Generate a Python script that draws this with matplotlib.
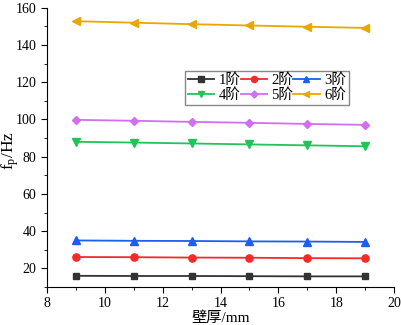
import matplotlib
matplotlib.use("Agg")
import matplotlib.pyplot as plt
from matplotlib.ticker import MultipleLocator

plt.rcParams['font.family'] = ['Liberation Serif', 'Noto Sans CJK SC']

thickness = [9, 11, 13, 15, 17, 19]
mode1 = [16.0, 15.9, 15.9, 15.8, 15.7, 15.7]
mode2 = [26.1, 26.0, 25.8, 25.7, 25.5, 25.4]
mode3 = [35.0, 34.8, 34.7, 34.5, 34.4, 34.2]
mode4 = [88.0, 87.6, 87.1, 86.6, 86.1, 85.6]
mode5 = [99.8, 99.3, 98.7, 98.2, 97.6, 97.1]
mode6 = [152.8, 152.0, 151.2, 150.5, 149.8, 149.2]
labels = ['1阶', '2阶', '3阶', '4阶', '5阶', '6阶']

series = [mode1, mode2, mode3, mode4, mode5, mode6]
colors = ['#333333', '#F42A2A', '#1A5FF0', '#22C45A', '#D070F0', '#E8A800']
markers = ['s', 'o', '^', 'v', 'D', '<']
msizes = [4.5, 5.2, 5.2, 5.2, 4.2, 5.5]

fig = plt.figure(figsize=(4.01, 3.25), dpi=100)
ax = fig.add_axes([0.117, 0.117, 0.866, 0.859])

handles = []
for y, c, m, ms, lab in zip(series, colors, markers, msizes, labels):
    h, = ax.plot(thickness, y, color=c, marker=m, markersize=ms, lw=1.3, label=lab)
    handles.append(h)

ax.set_xlim(8, 20)
ax.set_ylim(10, 160)
ax.xaxis.set_major_locator(MultipleLocator(2))
ax.xaxis.set_minor_locator(MultipleLocator(1))
ax.yaxis.set_major_locator(MultipleLocator(20))
ax.yaxis.set_minor_locator(MultipleLocator(10))
ax.tick_params(which='both', direction='out', labelsize=10)
ax.tick_params(which='major', length=4)
ax.tick_params(which='minor', length=2)
for s in ['top', 'right']:
    ax.spines[s].set_visible(False)

ax.set_xlabel('壁厚/mm', fontsize=11, labelpad=1)
ax.set_ylabel(r'$\mathregular{f_p}$/Hz', fontsize=12.5)
ax.yaxis.set_label_coords(-0.075, 0.49)

order = [0, 3, 1, 4, 2, 5]
leg = ax.legend([handles[i] for i in order], [labels[i] for i in order], ncol=3,
                loc='upper left', bbox_to_anchor=(0.398, 0.775), fontsize=10.5,
                fancybox=False, edgecolor='#888888', framealpha=1,
                handlelength=1.8, handletextpad=0.3, columnspacing=0.0,
                labelspacing=0.05, borderpad=0.2, borderaxespad=0,
                markerscale=0.85)

fig.savefig('out.png', dpi=100)
